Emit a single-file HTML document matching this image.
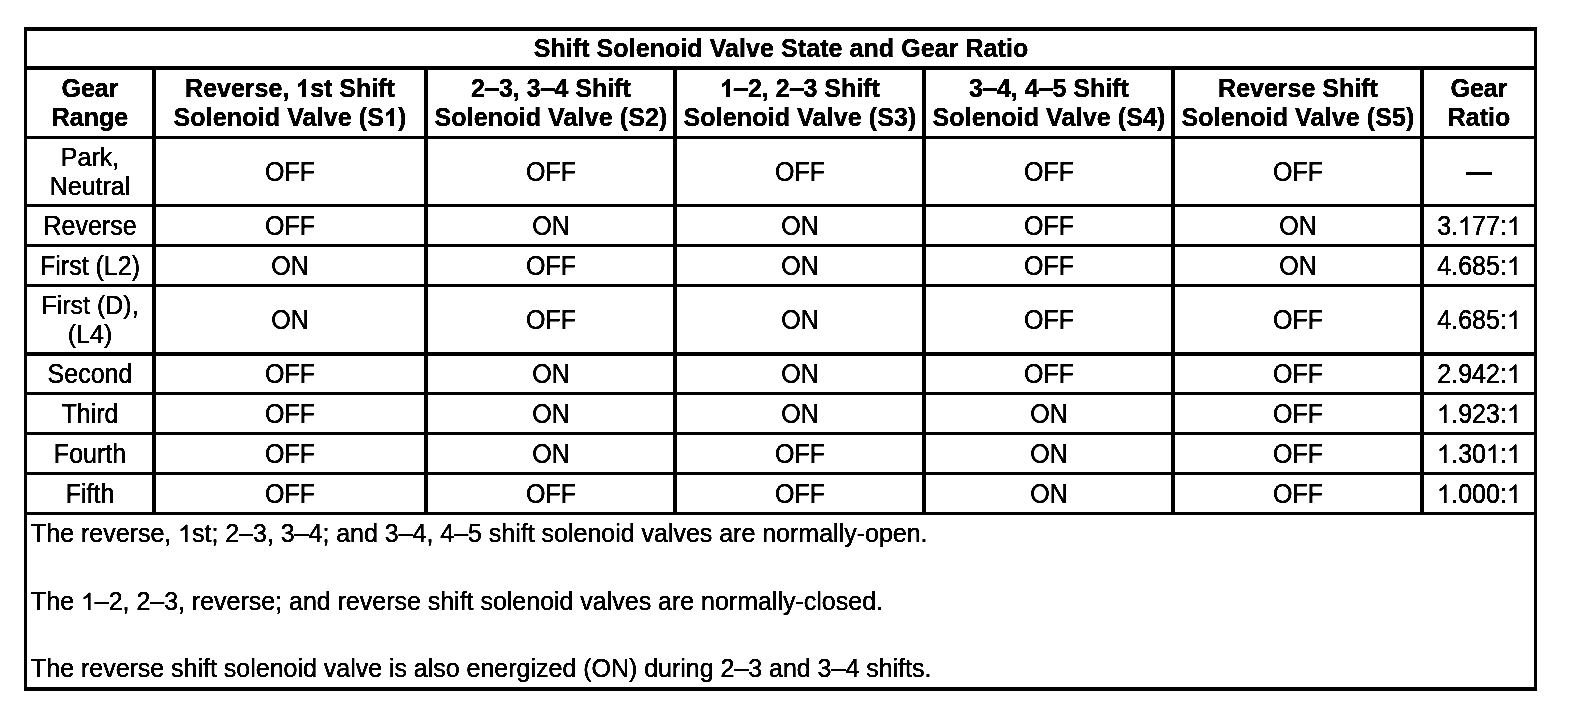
<!DOCTYPE html>
<html><head><meta charset="utf-8"><title>Shift Solenoid Valve State and Gear Ratio</title>
<style>
html,body{margin:0;padding:0;background:#fff;}
body{width:1584px;height:716px;position:relative;overflow:hidden;font-family:"Liberation Sans",sans-serif;color:#000;}
.l{position:absolute;background:#000;}
.t{will-change:transform;position:absolute;width:800px;height:29px;line-height:29px;font-size:25.0px;text-align:center;white-space:nowrap;
   transform-origin:50% 23.16px;-webkit-text-stroke:0.3px #000;}
.b{font-weight:bold;-webkit-text-stroke:0.25px #000;}
.d{display:inline-block;transform:scaleX(1.14);}
.o{display:inline-block;width:0.5562em;height:0.7227em;vertical-align:baseline;overflow:visible;}
.n{text-align:left;width:1500px;transform-origin:0 23.16px;}
</style></head><body>
<svg width="0" height="0" style="position:absolute"><filter id="bw" x="0" y="0" width="100%" height="100%" color-interpolation-filters="sRGB"><feComponentTransfer><feFuncR type="linear" slope="3.2" intercept="-1.35"/><feFuncG type="linear" slope="3.2" intercept="-1.35"/><feFuncB type="linear" slope="3.2" intercept="-1.35"/></feComponentTransfer></filter></svg><div id="w" style="position:absolute;left:0;top:0;width:1584px;height:716px;background:#fff;filter:url(#bw);">
<div class="l" style="left:24px;top:27px;width:3px;height:664px"></div>
<div class="l" style="left:1534px;top:27px;width:3px;height:664px"></div>
<div class="l" style="left:152px;top:66px;width:4px;height:449px"></div>
<div class="l" style="left:424px;top:66px;width:4px;height:449px"></div>
<div class="l" style="left:673px;top:66px;width:4px;height:449px"></div>
<div class="l" style="left:922px;top:66px;width:4px;height:449px"></div>
<div class="l" style="left:1171px;top:66px;width:4px;height:449px"></div>
<div class="l" style="left:1420px;top:66px;width:4px;height:449px"></div>
<div class="l" style="left:24px;top:27px;width:1513px;height:4px"></div>
<div class="l" style="left:24px;top:66px;width:1513px;height:4px"></div>
<div class="l" style="left:24px;top:136px;width:1513px;height:3px"></div>
<div class="l" style="left:24px;top:204px;width:1513px;height:3px"></div>
<div class="l" style="left:24px;top:244px;width:1513px;height:3px"></div>
<div class="l" style="left:24px;top:284px;width:1513px;height:3px"></div>
<div class="l" style="left:24px;top:352px;width:1513px;height:4px"></div>
<div class="l" style="left:24px;top:392px;width:1513px;height:3px"></div>
<div class="l" style="left:24px;top:432px;width:1513px;height:3px"></div>
<div class="l" style="left:24px;top:472px;width:1513px;height:3px"></div>
<div class="l" style="left:24px;top:512px;width:1513px;height:3px"></div>
<div class="l" style="left:24px;top:687px;width:1513px;height:4px"></div>
<div class="t b" style="left:380.50px;top:33.84px;transform:scaleY(1.02);letter-spacing:0.07px;">Shift Solenoid Valve State and Gear Ratio</div>
<div class="t b" style="left:-310.50px;top:73.84px;transform:scaleY(1.02);">Gear</div>
<div class="t b" style="left:-310.50px;top:102.84px;transform:scaleY(1.02);">Range</div>
<div class="t b" style="left:-110.00px;top:73.84px;transform:scaleY(1.02);">Reverse, <svg class="o" viewBox="0 -1480 1139 1480"><path transform="scale(1,-0.96)" d="M806 0H525V1059Q371 915 162 846V1101Q272 1137 401 1237.5T578 1472H806Z" stroke="#000" stroke-width="20" stroke-linejoin="miter"/></svg>st Shift</div>
<div class="t b" style="left:-109.94px;top:102.84px;transform:scaleY(1.02);letter-spacing:0.13px;">Solenoid Valve (S<svg class="o" viewBox="0 -1480 1139 1480"><path transform="scale(1,-0.96)" d="M806 0H525V1059Q371 915 162 846V1101Q272 1137 401 1237.5T578 1472H806Z" stroke="#000" stroke-width="20" stroke-linejoin="miter"/></svg>)</div>
<div class="t b" style="left:150.50px;top:73.84px;transform:scaleY(1.02);">2<span class="d">–</span>3, 3<span class="d">–</span>4 Shift</div>
<div class="t b" style="left:150.56px;top:102.84px;transform:scaleY(1.02);letter-spacing:0.13px;">Solenoid Valve (S2)</div>
<div class="t b" style="left:399.50px;top:73.84px;transform:scaleY(1.02);"><svg class="o" viewBox="0 -1480 1139 1480"><path transform="scale(1,-0.96)" d="M806 0H525V1059Q371 915 162 846V1101Q272 1137 401 1237.5T578 1472H806Z" stroke="#000" stroke-width="20" stroke-linejoin="miter"/></svg><span class="d">–</span>2, 2<span class="d">–</span>3 Shift</div>
<div class="t b" style="left:399.56px;top:102.84px;transform:scaleY(1.02);letter-spacing:0.13px;">Solenoid Valve (S3)</div>
<div class="t b" style="left:648.50px;top:73.84px;transform:scaleY(1.02);">3<span class="d">–</span>4, 4<span class="d">–</span>5 Shift</div>
<div class="t b" style="left:648.56px;top:102.84px;transform:scaleY(1.02);letter-spacing:0.13px;">Solenoid Valve (S4)</div>
<div class="t b" style="left:897.50px;top:73.84px;transform:scaleY(1.02);">Reverse Shift</div>
<div class="t b" style="left:897.56px;top:102.84px;transform:scaleY(1.02);letter-spacing:0.13px;">Solenoid Valve (S5)</div>
<div class="t b" style="left:1079.00px;top:73.84px;transform:scaleY(1.02);">Gear</div>
<div class="t b" style="left:1079.00px;top:102.84px;transform:scaleY(1.02);">Ratio</div>
<div class="t" style="left:-310.50px;top:142.84px;transform:scaleY(1.03);">Park,</div>
<div class="t" style="left:-310.50px;top:171.84px;transform:scaleY(1.03);">Neutral</div>
<div class="t" style="left:-110.00px;top:157.84px;transform:scaleY(1.08);">OFF</div>
<div class="t" style="left:150.50px;top:157.84px;transform:scaleY(1.08);">OFF</div>
<div class="t" style="left:399.50px;top:157.84px;transform:scaleY(1.08);">OFF</div>
<div class="t" style="left:648.50px;top:157.84px;transform:scaleY(1.08);">OFF</div>
<div class="t" style="left:897.50px;top:157.84px;transform:scaleY(1.08);">OFF</div>
<div class="l" style="left:1466px;top:172px;width:26px;height:3px"></div>
<div class="t" style="left:-310.50px;top:211.84px;transform:scaleY(1.08);">Reverse</div>
<div class="t" style="left:-110.00px;top:211.84px;transform:scaleY(1.08);">OFF</div>
<div class="t" style="left:150.50px;top:211.84px;transform:scaleY(1.08);">ON</div>
<div class="t" style="left:399.50px;top:211.84px;transform:scaleY(1.08);">ON</div>
<div class="t" style="left:648.50px;top:211.84px;transform:scaleY(1.08);">OFF</div>
<div class="t" style="left:897.50px;top:211.84px;transform:scaleY(1.08);">ON</div>
<div class="t" style="left:1079.00px;top:211.84px;transform:scaleY(1.08);">3.<svg class="o" viewBox="0 -1480 1139 1480"><path transform="scale(1,-0.96)" d="M763 0H583V1147Q518 1085 412.5 1023T223 930V1104Q373 1175 485 1275T644 1469H763Z" stroke="#000" stroke-width="25" stroke-linejoin="miter"/></svg>77:<svg class="o" viewBox="0 -1480 1139 1480"><path transform="scale(1,-0.96)" d="M763 0H583V1147Q518 1085 412.5 1023T223 930V1104Q373 1175 485 1275T644 1469H763Z" stroke="#000" stroke-width="25" stroke-linejoin="miter"/></svg></div>
<div class="t" style="left:-310.50px;top:251.84px;transform:scaleY(1.08);">First (L2)</div>
<div class="t" style="left:-110.00px;top:251.84px;transform:scaleY(1.08);">ON</div>
<div class="t" style="left:150.50px;top:251.84px;transform:scaleY(1.08);">OFF</div>
<div class="t" style="left:399.50px;top:251.84px;transform:scaleY(1.08);">ON</div>
<div class="t" style="left:648.50px;top:251.84px;transform:scaleY(1.08);">OFF</div>
<div class="t" style="left:897.50px;top:251.84px;transform:scaleY(1.08);">ON</div>
<div class="t" style="left:1079.00px;top:251.84px;transform:scaleY(1.08);">4.685:<svg class="o" viewBox="0 -1480 1139 1480"><path transform="scale(1,-0.96)" d="M763 0H583V1147Q518 1085 412.5 1023T223 930V1104Q373 1175 485 1275T644 1469H763Z" stroke="#000" stroke-width="25" stroke-linejoin="miter"/></svg></div>
<div class="t" style="left:-310.50px;top:290.84px;transform:scaleY(1.03);">First (D),</div>
<div class="t" style="left:-310.50px;top:319.84px;transform:scaleY(1.03);">(L4)</div>
<div class="t" style="left:-110.00px;top:305.84px;transform:scaleY(1.08);">ON</div>
<div class="t" style="left:150.50px;top:305.84px;transform:scaleY(1.08);">OFF</div>
<div class="t" style="left:399.50px;top:305.84px;transform:scaleY(1.08);">ON</div>
<div class="t" style="left:648.50px;top:305.84px;transform:scaleY(1.08);">OFF</div>
<div class="t" style="left:897.50px;top:305.84px;transform:scaleY(1.08);">OFF</div>
<div class="t" style="left:1079.00px;top:305.84px;transform:scaleY(1.08);">4.685:<svg class="o" viewBox="0 -1480 1139 1480"><path transform="scale(1,-0.96)" d="M763 0H583V1147Q518 1085 412.5 1023T223 930V1104Q373 1175 485 1275T644 1469H763Z" stroke="#000" stroke-width="25" stroke-linejoin="miter"/></svg></div>
<div class="t" style="left:-310.50px;top:359.84px;transform:scaleY(1.08);">Second</div>
<div class="t" style="left:-110.00px;top:359.84px;transform:scaleY(1.08);">OFF</div>
<div class="t" style="left:150.50px;top:359.84px;transform:scaleY(1.08);">ON</div>
<div class="t" style="left:399.50px;top:359.84px;transform:scaleY(1.08);">ON</div>
<div class="t" style="left:648.50px;top:359.84px;transform:scaleY(1.08);">OFF</div>
<div class="t" style="left:897.50px;top:359.84px;transform:scaleY(1.08);">OFF</div>
<div class="t" style="left:1079.00px;top:359.84px;transform:scaleY(1.08);">2.942:<svg class="o" viewBox="0 -1480 1139 1480"><path transform="scale(1,-0.96)" d="M763 0H583V1147Q518 1085 412.5 1023T223 930V1104Q373 1175 485 1275T644 1469H763Z" stroke="#000" stroke-width="25" stroke-linejoin="miter"/></svg></div>
<div class="t" style="left:-310.50px;top:399.84px;transform:scaleY(1.08);">Third</div>
<div class="t" style="left:-110.00px;top:399.84px;transform:scaleY(1.08);">OFF</div>
<div class="t" style="left:150.50px;top:399.84px;transform:scaleY(1.08);">ON</div>
<div class="t" style="left:399.50px;top:399.84px;transform:scaleY(1.08);">ON</div>
<div class="t" style="left:648.50px;top:399.84px;transform:scaleY(1.08);">ON</div>
<div class="t" style="left:897.50px;top:399.84px;transform:scaleY(1.08);">OFF</div>
<div class="t" style="left:1079.00px;top:399.84px;transform:scaleY(1.08);"><svg class="o" viewBox="0 -1480 1139 1480"><path transform="scale(1,-0.96)" d="M763 0H583V1147Q518 1085 412.5 1023T223 930V1104Q373 1175 485 1275T644 1469H763Z" stroke="#000" stroke-width="25" stroke-linejoin="miter"/></svg>.923:<svg class="o" viewBox="0 -1480 1139 1480"><path transform="scale(1,-0.96)" d="M763 0H583V1147Q518 1085 412.5 1023T223 930V1104Q373 1175 485 1275T644 1469H763Z" stroke="#000" stroke-width="25" stroke-linejoin="miter"/></svg></div>
<div class="t" style="left:-310.50px;top:439.84px;transform:scaleY(1.08);">Fourth</div>
<div class="t" style="left:-110.00px;top:439.84px;transform:scaleY(1.08);">OFF</div>
<div class="t" style="left:150.50px;top:439.84px;transform:scaleY(1.08);">ON</div>
<div class="t" style="left:399.50px;top:439.84px;transform:scaleY(1.08);">OFF</div>
<div class="t" style="left:648.50px;top:439.84px;transform:scaleY(1.08);">ON</div>
<div class="t" style="left:897.50px;top:439.84px;transform:scaleY(1.08);">OFF</div>
<div class="t" style="left:1079.00px;top:439.84px;transform:scaleY(1.08);"><svg class="o" viewBox="0 -1480 1139 1480"><path transform="scale(1,-0.96)" d="M763 0H583V1147Q518 1085 412.5 1023T223 930V1104Q373 1175 485 1275T644 1469H763Z" stroke="#000" stroke-width="25" stroke-linejoin="miter"/></svg>.30<svg class="o" viewBox="0 -1480 1139 1480"><path transform="scale(1,-0.96)" d="M763 0H583V1147Q518 1085 412.5 1023T223 930V1104Q373 1175 485 1275T644 1469H763Z" stroke="#000" stroke-width="25" stroke-linejoin="miter"/></svg>:<svg class="o" viewBox="0 -1480 1139 1480"><path transform="scale(1,-0.96)" d="M763 0H583V1147Q518 1085 412.5 1023T223 930V1104Q373 1175 485 1275T644 1469H763Z" stroke="#000" stroke-width="25" stroke-linejoin="miter"/></svg></div>
<div class="t" style="left:-310.50px;top:479.84px;transform:scaleY(1.08);">Fifth</div>
<div class="t" style="left:-110.00px;top:479.84px;transform:scaleY(1.08);">OFF</div>
<div class="t" style="left:150.50px;top:479.84px;transform:scaleY(1.08);">OFF</div>
<div class="t" style="left:399.50px;top:479.84px;transform:scaleY(1.08);">OFF</div>
<div class="t" style="left:648.50px;top:479.84px;transform:scaleY(1.08);">ON</div>
<div class="t" style="left:897.50px;top:479.84px;transform:scaleY(1.08);">OFF</div>
<div class="t" style="left:1079.00px;top:479.84px;transform:scaleY(1.08);"><svg class="o" viewBox="0 -1480 1139 1480"><path transform="scale(1,-0.96)" d="M763 0H583V1147Q518 1085 412.5 1023T223 930V1104Q373 1175 485 1275T644 1469H763Z" stroke="#000" stroke-width="25" stroke-linejoin="miter"/></svg>.000:<svg class="o" viewBox="0 -1480 1139 1480"><path transform="scale(1,-0.96)" d="M763 0H583V1147Q518 1085 412.5 1023T223 930V1104Q373 1175 485 1275T644 1469H763Z" stroke="#000" stroke-width="25" stroke-linejoin="miter"/></svg></div>
<div class="t n" style="left:31.00px;top:518.84px;transform:scaleY(1.0);word-spacing:-0.1px;">The reverse, <svg class="o" viewBox="0 -1480 1139 1480"><path transform="scale(1,-0.96)" d="M763 0H583V1147Q518 1085 412.5 1023T223 930V1104Q373 1175 485 1275T644 1469H763Z" stroke="#000" stroke-width="25" stroke-linejoin="miter"/></svg>st; 2–3, 3–4; and 3–4, 4–5 shift solenoid valves are normally-open.</div>
<div class="t n" style="left:31.00px;top:586.84px;transform:scaleY(1.0);word-spacing:-0.12px;">The <svg class="o" viewBox="0 -1480 1139 1480"><path transform="scale(1,-0.96)" d="M763 0H583V1147Q518 1085 412.5 1023T223 930V1104Q373 1175 485 1275T644 1469H763Z" stroke="#000" stroke-width="25" stroke-linejoin="miter"/></svg>–2, 2–3, reverse; and reverse shift solenoid valves are normally-closed.</div>
<div class="t n" style="left:31.00px;top:653.84px;transform:scaleY(1.0);word-spacing:-0.11px;">The reverse shift solenoid valve is also energized (ON) during 2–3 and 3–4 shifts.</div>
</div></body></html>
